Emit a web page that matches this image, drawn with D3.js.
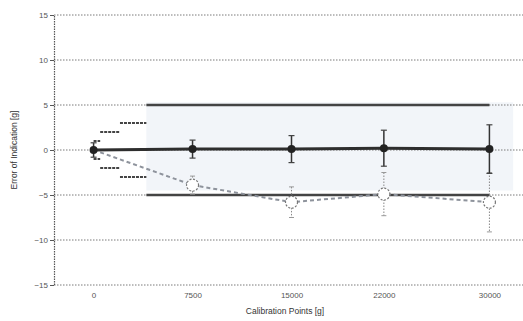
<!DOCTYPE html>
<html><head><meta charset="utf-8">
<script src="https://cdn.jsdelivr.net/npm/d3@7"></script>
<style>
html,body{margin:0;padding:0;background:#fff;}
svg{display:block;font-family:"Liberation Sans",Arial,sans-serif;}
</style></head>
<body><svg id="c" width="523" height="321"></svg>
<script>
// Data
const categories = [0, 7500, 15000, 22000, 30000];
const meanSeries = [0, 0.1, 0.1, 0.2, 0.1];
const meanErr = [0.8, 1.0, 1.5, 2.0, 2.7];
const indicSeries = [0, -3.9, -5.8, -4.9, -5.8];
const indicErr = [0.5, 1.0, 1.7, 2.4, 3.3];
const mpeFrom = [0, 500, 2000, 4000];
const mpeTo = [500, 2000, 4000, 30000];
const mpeValue = [1, 2, 3, 5];
const yTicks = [-15, -10, -5, 0, 5, 10, 15];
const xLabel = "Calibration Points [g]";
const yLabel = "Error of Indication [g]";

const svg = d3.select("#c");
const x = d3.scaleLinear().domain([-3000, 33000]).range([54, 529]);
const y = d3.scaleLinear().domain([-15, 15]).range([285, 15]);

// faint tint band
svg.append("rect")
  .attr("x", x(4000)).attr("y", y(5.3)).attr("width", x(31800) - x(4000)).attr("height", y(-4.5) - y(5.3))
  .attr("fill", "#f2f5f9");

// gridlines
svg.append("g").selectAll("line").data(yTicks).join("line")
  .attr("x1", x(-3000)).attr("x2", 523).attr("y1", d => y(d)).attr("y2", d => y(d))
  .attr("stroke", "#7a7a7a").attr("stroke-width", 1).attr("stroke-dasharray", "1.5,1.5");

// y axis
const yAxis = d3.axisLeft(y).tickValues(yTicks).tickSize(4).tickPadding(2).tickFormat(d3.format("d"));
const gy = svg.append("g").attr("transform", `translate(${x(-3000)},0)`).call(yAxis);
gy.select(".domain").attr("stroke", "#555").attr("stroke-dasharray", "1.5,1").attr("stroke-width", 1.2);
gy.selectAll(".tick line").attr("stroke", "#555");
gy.selectAll(".tick text").attr("fill", "#555").attr("font-size", 8);

// x axis labels (no line)
const xAxis = d3.axisBottom(x).tickValues(categories).tickSize(0).tickPadding(7).tickFormat(d3.format("d"));
const gx = svg.append("g").attr("transform", `translate(0,${y(-15)})`).call(xAxis);
gx.select(".domain").remove();
gx.selectAll(".tick text").attr("fill", "#555").attr("font-size", 8);

// axis titles
svg.append("text").attr("x", 285).attr("y", 314).attr("text-anchor", "middle")
  .attr("font-size", 8.5).attr("fill", "#333").text(xLabel);
svg.append("text").attr("transform", "translate(17,150) rotate(-90)").attr("text-anchor", "middle")
  .attr("font-size", 8.5).attr("fill", "#333").text(yLabel);

// MPE step limits
const mpe = svg.append("g");
[1, -1].forEach(sgn => {
  mpe.selectAll(null).data(mpeValue.map((v, i) => i)).join("line")
    .attr("x1", i => x(mpeFrom[i])).attr("x2", i => x(mpeTo[i]))
    .attr("y1", i => y(sgn * mpeValue[i])).attr("y2", i => y(sgn * mpeValue[i]))
    .attr("stroke", "#444").attr("stroke-width", i => i === 3 ? 2.5 : 2.2)
    .attr("stroke-dasharray", i => i === 3 ? null : "3,1");
});

// indication series (dashed, open circles)
const pts = categories.map((c, i) => ({ c, i }));
svg.append("path").datum(pts)
  .attr("d", d3.line().x(d => x(d.c)).y(d => y(indicSeries[d.i])))
  .attr("fill", "none").attr("stroke", "#8e939c").attr("stroke-width", 2).attr("stroke-dasharray", "4,3");
const gB = svg.append("g");
gB.selectAll(".eb").data(pts.slice(1)).join("line")
  .attr("x1", d => x(d.c)).attr("x2", d => x(d.c))
  .attr("y1", d => y(indicSeries[d.i] + indicErr[d.i])).attr("y2", d => y(indicSeries[d.i] - indicErr[d.i]))
  .attr("stroke", "#888").attr("stroke-width", 1).attr("stroke-dasharray", "1.5,1.5");
[1, -1].forEach(sgn => {
  gB.selectAll(null).data(pts.slice(1)).join("line")
    .attr("x1", d => x(d.c) - 2.5).attr("x2", d => x(d.c) + 2.5)
    .attr("y1", d => y(indicSeries[d.i] + sgn * indicErr[d.i])).attr("y2", d => y(indicSeries[d.i] + sgn * indicErr[d.i]))
    .attr("stroke", "#999").attr("stroke-width", 1);
});
gB.selectAll("circle").data(pts.slice(1)).join("circle")
  .attr("cx", d => x(d.c)).attr("cy", d => y(indicSeries[d.i])).attr("r", 6)
  .attr("fill", "#fff").attr("stroke", "#777").attr("stroke-width", 1.2).attr("stroke-dasharray", "2,1.5");

// mean series (solid)
svg.append("path").datum(pts)
  .attr("d", d3.line().x(d => x(d.c)).y(d => y(meanSeries[d.i])))
  .attr("fill", "none").attr("stroke", "#2e2e2e").attr("stroke-width", 3);
const gA = svg.append("g");
gA.selectAll(".eb").data(pts).join("line")
  .attr("x1", d => x(d.c)).attr("x2", d => x(d.c))
  .attr("y1", d => y(meanSeries[d.i] + meanErr[d.i])).attr("y2", d => y(meanSeries[d.i] - meanErr[d.i]))
  .attr("stroke", "#333").attr("stroke-width", 1.5);
[1, -1].forEach(sgn => {
  gA.selectAll(null).data(pts).join("line")
    .attr("x1", d => x(d.c) - 3).attr("x2", d => x(d.c) + 3)
    .attr("y1", d => y(meanSeries[d.i] + sgn * meanErr[d.i])).attr("y2", d => y(meanSeries[d.i] + sgn * meanErr[d.i]))
    .attr("stroke", "#444").attr("stroke-width", 1.2);
});
gA.selectAll("circle").data(pts).join("circle")
  .attr("cx", d => x(d.c)).attr("cy", d => y(meanSeries[d.i])).attr("r", 4)
  .attr("fill", "#222");
</script></body></html>
